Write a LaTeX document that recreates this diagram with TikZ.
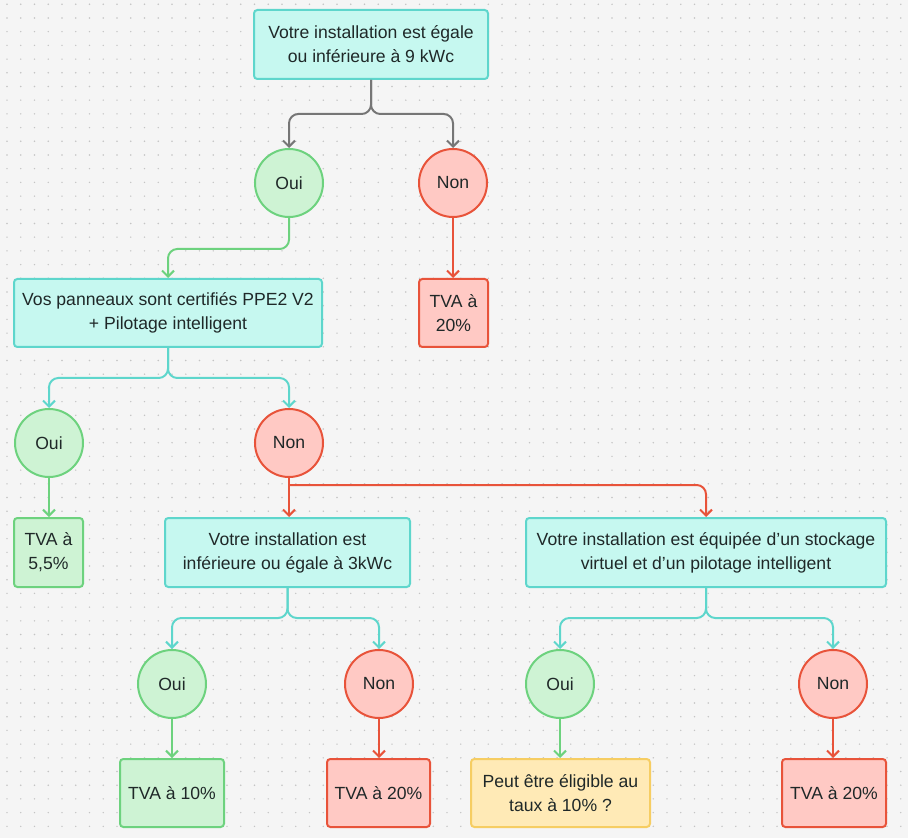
\documentclass[tikz,border=0pt]{standalone}
\usepackage{fontspec}
\setmainfont{Liberation Sans}
\usetikzlibrary{arrows.meta}
\definecolor{bgc}{HTML}{F5F5F5}
\definecolor{dotc}{HTML}{C4C4C4}
\definecolor{ink}{HTML}{1F2828}
\definecolor{cyanF}{HTML}{C6F8F0}
\definecolor{cyanB}{HTML}{5ED6CC}
\definecolor{greenF}{HTML}{CEF3D4}
\definecolor{greenB}{HTML}{6DD27E}
\definecolor{redF}{HTML}{FFC9C4}
\definecolor{redB}{HTML}{E8533A}
\definecolor{yelF}{HTML}{FFEAB6}
\definecolor{yelB}{HTML}{F6CD62}
\definecolor{grayc}{HTML}{767676}
\begin{document}
\begin{tikzpicture}[x=0.75pt,y=-0.75pt,
  font=\fontsize{13.2}{18}\selectfont,
  sz/.style 2 args={minimum width=#1*0.75pt, minimum height=#2*0.75pt},
  box/.style={draw=cyanB, fill=cyanF, line width=1.5pt, rounded corners=2.5pt, align=center, text=ink, inner sep=0pt},
  gbox/.style={box, draw=greenB, fill=greenF},
  rbox/.style={box, draw=redB, fill=redF},
  ybox/.style={box, draw=yelB, fill=yelF},
  circ/.style={circle, minimum size=51pt, line width=1.5pt, inner sep=0pt, text=ink},
  oui/.style={circ, draw=greenB, fill=greenF},
  non/.style={circ, draw=redB, fill=redF},
  conn/.style={line width=1.5pt, rounded corners=7pt, -{Straight Barb[length=4.5pt,width=9pt]}}
]
\useasboundingbox (0,0) rectangle (908,838);
\fill[bgc] (0,0) rectangle (908,838);
\foreach \i in {0,...,65}{
  \foreach \j in {0,...,61}{
    \fill[dotc] ({7+\i*13.75},{4.3+\j*13.7}) circle (0.6pt);
  }
}
% nodes
\node[box, sz={234}{69}] (top) at (371,44.5) {Votre installation est égale\\ou inférieure à 9 kWc};
\node[oui] (oui1) at (289,183) {Oui};
\node[non] (non1) at (453,183) {Non};
\node[rbox, sz={69}{68}] (tva1) at (453.5,313) {TVA à\\20\%};
\node[box, sz={308}{68}] (box2) at (168,313) {Vos panneaux sont certifiés PPE2 V2\\+ Pilotage intelligent};
\node[oui] (oui2) at (49,443) {Oui};
\node[non] (non2) at (289,443) {Non};
\node[gbox, sz={69}{69}] (tva2) at (48.5,552.5) {TVA à\\5,5\%};
\node[box, sz={245}{69}] (box3) at (287.5,552.5) {Votre installation est\\inférieure ou égale à 3kWc};
\node[box, sz={360}{69}] (box4) at (706,552.5) {Votre installation est équipée d’un stockage\\virtuel et d’un pilotage intelligent};
\node[oui] (oui3) at (172,684) {Oui};
\node[non] (non3) at (379,684) {Non};
\node[oui] (oui4) at (560,684) {Oui};
\node[non] (non4) at (833,684) {Non};
\node[gbox, sz={104}{68}] (tva3) at (172,793) {TVA à 10\%};
\node[rbox, sz={103}{68}] (tva4) at (378.5,793) {TVA à 20\%};
\node[ybox, sz={179}{68}] (yel) at (560.5,793) {Peut être éligible au\\taux à 10\% ?};
\node[rbox, sz={104}{68}] (tva5) at (834,793) {TVA à 20\%};
% connectors
\draw[conn, grayc] (top.south) -- ++(0,34) -| (oui1.north);
\draw[conn, grayc] (top.south) -- ++(0,34) -| (non1.north);
\draw[conn, greenB] (oui1.south) -- ++(0,31) -| (box2.north);
\draw[conn, redB] (non1.south) -- (non1.south |- tva1.north);
\draw[conn, cyanB] (box2.south) -- ++(0,30) -| (oui2.north);
\draw[conn, cyanB] (box2.south) -- ++(0,30) -| (non2.north);
\draw[conn, greenB] (oui2.south) -- (oui2.south |- tva2.north);
\draw[conn, redB] (non2.south) -- (non2.south |- box3.north);
\draw[conn, redB] ([yshift=-5.25pt]non2.south) -| (box4.north);
\draw[conn, cyanB] (box3.south) -- ++(0,30) -| (oui3.north);
\draw[conn, cyanB] (box3.south) -- ++(0,30) -| (non3.north);
\draw[conn, cyanB] (box4.south) -- ++(0,30) -| (oui4.north);
\draw[conn, cyanB] (box4.south) -- ++(0,30) -| (non4.north);
\draw[conn, greenB] (oui3.south) -- (oui3.south |- tva3.north);
\draw[conn, redB] (non3.south) -- (non3.south |- tva4.north);
\draw[conn, greenB] (oui4.south) -- (oui4.south |- yel.north);
\draw[conn, redB] (non4.south) -- (non4.south |- tva5.north);
\end{tikzpicture}
\end{document}
